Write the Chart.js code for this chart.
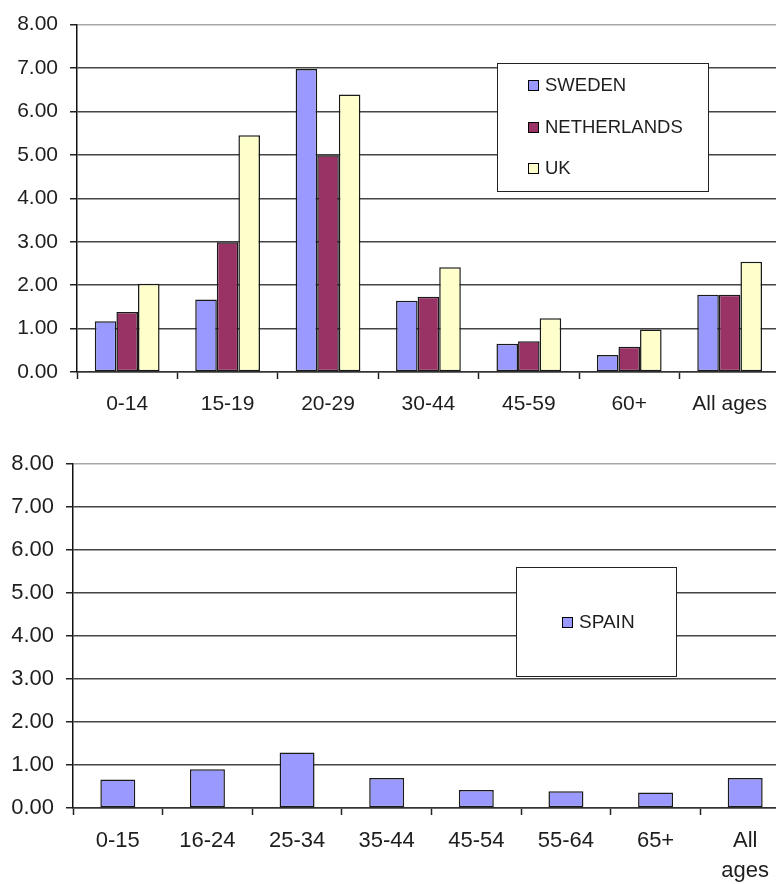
<!DOCTYPE html>
<html>
<head>
<meta charset="utf-8">
<script src="https://cdn.jsdelivr.net/npm/chart.js@4/dist/chart.umd.min.js"></script>
<style>
  html, body { margin: 0; padding: 0; background: #fff; overflow: hidden; }
  body { width: 776px; height: 884px; position: relative; }
  canvas { position: absolute; left: 0; }
  #top { top: 0; }
  #bottom { top: 430px; }
</style>
</head>
<body>
<canvas id="top" width="780" height="430"></canvas>
<canvas id="bottom" width="790" height="454"></canvas>
<script>
// top chart data
const ageGroups = ['0-14', '15-19', '20-29', '30-44', '45-59', '60+', 'All ages'];
const sweden = [1.17, 1.67, 6.98, 1.64, 0.65, 0.39, 1.78];
const netherlands = [1.38, 2.99, 4.99, 1.73, 0.71, 0.58, 1.78];
const uk = [2.03, 5.45, 6.39, 2.41, 1.24, 0.98, 2.54];

// bottom chart data
const spainGroups = ['0-15', '16-24', '25-34', '35-44', '45-54', '55-64', '65+', ['All', 'ages']];
const spain = [0.66, 0.90, 1.29, 0.70, 0.42, 0.39, 0.36, 0.70];

const yTicks = [0, 1, 2, 3, 4, 5, 6, 7, 8];

const FONT = "'Liberation Sans', Arial, sans-serif";
const INK = '#1e1e1e';

// legend in a box, drawn inside the plot like the spreadsheet one
const boxLegend = {
  id: 'boxLegend',
  afterDraw(chart, args, o) {
    const ctx = chart.ctx;
    ctx.save();
    ctx.fillStyle = '#fff';
    ctx.fillRect(o.x, o.y, o.w, o.h);
    ctx.strokeStyle = '#222';
    ctx.lineWidth = 1;
    ctx.strokeRect(o.x + 0.5, o.y + 0.5, o.w, o.h);
    ctx.font = o.size + 'px ' + FONT;
    ctx.textBaseline = 'middle';
    chart.data.datasets.forEach(function (ds, i) {
      const cy = Math.round(o.firstY + i * o.rowGap);
      ctx.fillStyle = ds.backgroundColor;
      ctx.fillRect(o.markerX, cy - 5, 10, 10);
      ctx.strokeStyle = '#000';
      ctx.strokeRect(o.markerX + 0.5, cy - 5 + 0.5, 10, 10);
      ctx.fillStyle = INK;
      ctx.fillText(ds.label, o.markerX + 17, cy + 1);
    });
    ctx.restore();
  }
};

function makeOptions(cfg) {
  return {
    responsive: false,
    animation: false,
    devicePixelRatio: 1,
    layout: { padding: { top: cfg.padTop, left: 0, right: 0, bottom: 0 } },
    plugins: {
      legend: { display: false },
      tooltip: { enabled: false },
      boxLegend: cfg.legend
    },
    scales: {
      x: {
        afterFit: function (s) { s.height = cfg.xHeight; },
        grid: {
          offset: true,
          drawOnChartArea: false,
          tickLength: 7,
          tickColor: '#222',
          tickWidth: 1.5
        },
        border: { color: '#333', width: 1.5 },
        ticks: {
          color: INK,
          padding: cfg.xPad,
          maxRotation: 0,
          autoSkip: false,
          font: { family: FONT, size: cfg.fontSize, lineHeight: cfg.lineHeight }
        }
      },
      y: {
        min: 0,
        max: 8,
        afterFit: function (s) { s.width = cfg.yWidth; },
        afterBuildTicks: function (s) { s.ticks = yTicks.map(function (v) { return { value: v }; }); },
        grid: {
          color: function (c) { return c.tick && c.tick.value === 8 ? '#a8a8a8' : '#444'; },
          tickColor: '#222',
          tickLength: 7,
          lineWidth: 1.5
        },
        border: { color: '#111', width: 1.5 },
        ticks: {
          color: INK,
          padding: 12,
          font: { family: FONT, size: cfg.fontSize },
          callback: function (v) { return Number(v).toFixed(2); }
        }
      }
    }
  };
}

const barStyle = { borderColor: '#1a1a1a', borderWidth: 1.5, borderSkipped: false };

new Chart(document.getElementById('top'), {
  type: 'bar',
  data: {
    labels: ageGroups,
    datasets: [
      Object.assign({ label: 'SWEDEN', data: sweden, backgroundColor: '#9999ff' }, barStyle),
      Object.assign({ label: 'NETHERLANDS', data: netherlands, backgroundColor: '#993366' }, barStyle),
      Object.assign({ label: 'UK', data: uk, backgroundColor: '#ffffcc' }, barStyle)
    ]
  },
  options: Object.assign(makeOptions({
    padTop: 19, xHeight: 58, yWidth: 77, xPad: 13, fontSize: 21, lineHeight: 1.2,
    legend: { x: 497, y: 63, w: 211, h: 128, markerX: 528, firstY: 85, rowGap: 41.5, size: 18.5 }
  }), {
    datasets: { bar: { categoryPercentage: 0.645, barPercentage: 1.0 } }
  }),
  plugins: [boxLegend]
});

new Chart(document.getElementById('bottom'), {
  type: 'bar',
  data: {
    labels: spainGroups,
    datasets: [
      Object.assign({ label: 'SPAIN', data: spain, backgroundColor: '#9999ff' }, barStyle)
    ]
  },
  options: Object.assign(makeOptions({
    padTop: 34, xHeight: 76, yWidth: 73, xPad: 11, fontSize: 22, lineHeight: 1.36,
    legend: { x: 516, y: 137, w: 160, h: 109, markerX: 562, firstY: 191.5, rowGap: 0, size: 19 }
  }), {
    datasets: { bar: { categoryPercentage: 0.39, barPercentage: 1.0 } }
  }),
  plugins: [boxLegend]
});
</script>
</body>
</html>
